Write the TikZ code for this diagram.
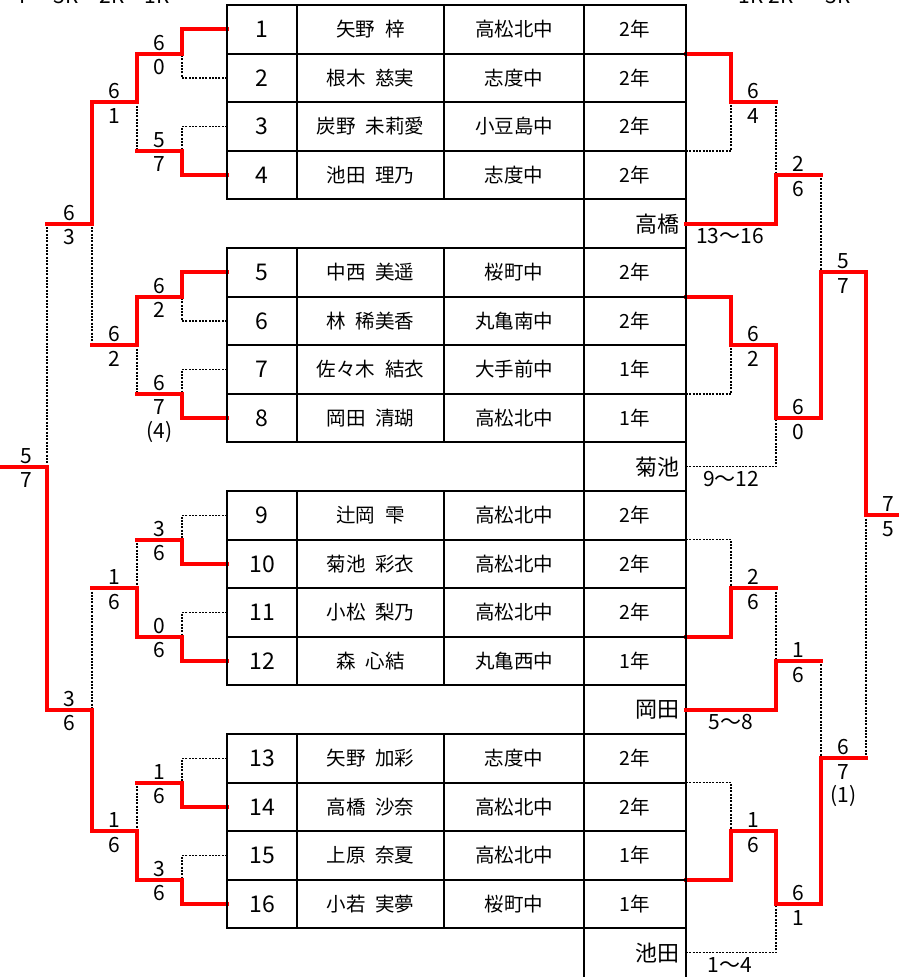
\documentclass[tikz,border=0pt]{standalone}
\usepackage{fontspec}
\setmainfont{Noto Sans CJK JP}
\newcommand\jgap{\hspace{0.5em}}
\begin{document}
\begin{tikzpicture}[x=1pt,y=-1pt,
  declare function={ky(\k)=5+48.6*\k;},
  tbl/.style={draw=black, line width=2pt},
  cell/.style={draw=black, line width=2pt, outer sep=0pt, inner sep=0pt, minimum height=48.6pt},
  numc/.style={cell, minimum width=70pt, font=\fontsize{23}{23}\selectfont},
  namec/.style={cell, minimum width=147pt, font=\fontsize{19.5}{19.5}\selectfont},
  schc/.style={cell, minimum width=140pt, font=\fontsize{19.5}{19.5}\selectfont},
  grc/.style={cell, minimum width=102pt, font=\fontsize{19.5}{19.5}\selectfont},
  gapc/.style={outer sep=0pt, inner xsep=7pt, inner ysep=0pt, minimum height=48.6pt, text width=88pt, align=right, font=\fontsize{22}{22}\selectfont},
  win/.style={draw=red, line width=4pt, line cap=rect, line join=miter},
  lose/.style={draw=black, line width=1.5pt, dash pattern=on 2pt off 1.3pt},
  score/.style={font=\fontsize{21}{21}\selectfont, inner sep=0pt},
  rng/.style={font=\fontsize{21}{21}\selectfont, inner sep=0pt},
  hdr/.style={font=\fontsize{21}{21}\selectfont, inner sep=0pt, anchor=base},
]
\path[fill=white] (0,0) rectangle (899,977);
\useasboundingbox (0,0) rectangle (899,977);

% partially visible round headers (cut by the top edge, as in the reference)
\node[hdr] (hl1) at (25,4) {F};
\node[hdr] (hl2) at (66,4) {3R};
\node[hdr] (hl3) at (112,4) {2R};
\node[hdr] (hl4) at (157,4) {1R};
\node[hdr] (hr1) at (751,4) {1R};
\node[hdr] (hr2) at (781,4) {2R};
\node[hdr] (hr3) at (838,4) {3R};
\node[hdr] (hr4) at (903,4) {F};

% table
\foreach \i/\k/\nm/\school/\gr in {
  1/0/{矢野\jgap 梓}/高松北中/2年,
  2/1/{根木\jgap 慈実}/志度中/2年,
  3/2/{炭野\jgap 未莉愛}/小豆島中/2年,
  4/3/{池田\jgap 理乃}/志度中/2年,
  5/5/{中西\jgap 美遥}/桜町中/2年,
  6/6/{林\jgap 稀美香}/丸亀南中/2年,
  7/7/{佐々木\jgap 結衣}/大手前中/1年,
  8/8/{岡田\jgap 清瑚}/高松北中/1年,
  9/10/{辻岡\jgap 雫}/高松北中/2年,
  10/11/{菊池\jgap 彩衣}/高松北中/2年,
  11/12/{小松\jgap 梨乃}/高松北中/2年,
  12/13/{森\jgap 心結}/丸亀西中/1年,
  13/15/{矢野\jgap 加彩}/志度中/2年,
  14/16/{高橋\jgap 沙奈}/高松北中/2年,
  15/17/{上原\jgap 奈夏}/高松北中/1年,
  16/18/{小若\jgap 実夢}/桜町中/1年}{
  \node[numc] (n\i) at (262,{ky(\k+0.5)}) {\i};
  \node[namec] (m\i) at (370.5,{ky(\k+0.5)}) {\nm};
  \node[schc] (s\i) at (514,{ky(\k+0.5)}) {\school};
  \node[grc] (r\i) at (635,{ky(\k+0.5)}) {\gr};
}
\foreach \j/\k/\t in {1/4/高橋,2/9/菊池,3/14/岡田,4/19/池田}{
  \node[gapc] (g\j) at (635,{ky(\k+0.5)}) {\t};
  \draw[tbl] (g\j.north west) -- (g\j.south west) (g\j.north east) -- (g\j.south east);
}

% ---------- left bracket: losers (dotted)
\draw[lose] (n2.west) -- (182,{ky(1.5)}) -- (182,{ky(1)});
\draw[lose] (n3.west) -- (182,{ky(2.5)}) -- (182,{ky(3)});
\draw[lose] (137,{ky(2)}) -- (137,{ky(3)});
\draw[lose] (92,{ky(4.5)}) -- (92,{ky(7)});
\draw[lose] (n6.west) -- (182,{ky(6.5)}) -- (182,{ky(6)});
\draw[lose] (n7.west) -- (182,{ky(7.5)}) -- (182,{ky(8)});
\draw[lose] (137,{ky(7)}) -- (137,{ky(8)});
\draw[lose] (47,{ky(4.5)}) -- (47,{ky(9.5)});
\draw[lose] (n9.west) -- (182,{ky(10.5)}) -- (182,{ky(11)});
\draw[lose] (n11.west) -- (182,{ky(12.5)}) -- (182,{ky(13)});
\draw[lose] (137,{ky(11)}) -- (137,{ky(12)});
\draw[lose] (92,{ky(12)}) -- (92,{ky(14.5)});
\draw[lose] (n13.west) -- (182,{ky(15.5)}) -- (182,{ky(16)});
\draw[lose] (n15.west) -- (182,{ky(17.5)}) -- (182,{ky(18)});
\draw[lose] (137,{ky(16)}) -- (137,{ky(17)});

% ---------- left bracket: winners (red)
\draw[win] (n1.west) -- (182,{ky(.5)}) -- (182,{ky(1)}) -- (137,{ky(1)}) -- (137,{ky(2)}) -- (92,{ky(2)}) -- (92,{ky(4.5)}) -- (47,{ky(4.5)});
\draw[win] (n4.west) -- (182,{ky(3.5)}) -- (182,{ky(3)}) -- (137,{ky(3)});
\draw[win] (n5.west) -- (182,{ky(5.5)}) -- (182,{ky(6)}) -- (137,{ky(6)}) -- (137,{ky(7)}) -- (92,{ky(7)});
\draw[win] (n8.west) -- (182,{ky(8.5)}) -- (182,{ky(8)}) -- (137,{ky(8)});
\draw[win] (n10.west) -- (182,{ky(11.5)}) -- (182,{ky(11)}) -- (137,{ky(11)});
\draw[win] (n12.west) -- (182,{ky(13.5)}) -- (182,{ky(13)}) -- (137,{ky(13)}) -- (137,{ky(12)}) -- (92,{ky(12)});
\draw[win] (n14.west) -- (182,{ky(16.5)}) -- (182,{ky(16)}) -- (137,{ky(16)});
\draw[win] (n16.west) -- (182,{ky(18.5)}) -- (182,{ky(18)}) -- (137,{ky(18)}) -- (137,{ky(17)}) -- (92,{ky(17)}) -- (92,{ky(14.5)}) -- (47,{ky(14.5)}) -- (47,{ky(9.5)}) -- (2,{ky(9.5)});

% ---------- right bracket: losers (dotted)
\draw[lose] (r3.south east) -- (731,{ky(3)}) -- (731,{ky(2)});
\draw[lose] (776,{ky(2)}) -- (776,{ky(3.5)});
\draw[lose] (821,{ky(3.5)}) -- (821,{ky(5.5)});
\draw[lose] (r7.south east) -- (731,{ky(8)}) -- (731,{ky(7)});
\draw[lose] (g2.east) -- (776,{ky(9.5)}) -- (776,{ky(8.5)});
\draw[lose] (866,{ky(10.5)}) -- (866,{ky(15.5)});
\draw[lose] (r9.south east) -- (731,{ky(11)}) -- (731,{ky(12)});
\draw[lose] (776,{ky(12)}) -- (776,{ky(13.5)});
\draw[lose] (821,{ky(13.5)}) -- (821,{ky(15.5)});
\draw[lose] (r13.south east) -- (731,{ky(16)}) -- (731,{ky(17)});
\draw[lose] (g4.east) -- (776,{ky(19.5)}) -- (776,{ky(18.5)});

% ---------- right bracket: winners (red)
\draw[win] (r1.south east) -- (731,{ky(1)}) -- (731,{ky(2)}) -- (776,{ky(2)});
\draw[win] (g1.east) -- (776,{ky(4.5)}) -- (776,{ky(3.5)}) -- (821,{ky(3.5)});
\draw[win] (r5.south east) -- (731,{ky(6)}) -- (731,{ky(7)}) -- (776,{ky(7)}) -- (776,{ky(8.5)}) -- (821,{ky(8.5)}) -- (821,{ky(5.5)}) -- (866,{ky(5.5)}) -- (866,{ky(10.5)}) -- (899,{ky(10.5)});
\draw[win] (r11.south east) -- (731,{ky(13)}) -- (731,{ky(12)}) -- (776,{ky(12)});
\draw[win] (g3.east) -- (776,{ky(14.5)}) -- (776,{ky(13.5)}) -- (821,{ky(13.5)});
\draw[win] (r15.south east) -- (731,{ky(18)}) -- (731,{ky(17)}) -- (776,{ky(17)}) -- (776,{ky(18.5)}) -- (821,{ky(18.5)}) -- (821,{ky(15.5)}) -- (866,{ky(15.5)});

% redraw table borders on top
\foreach \i in {1,...,16}{
  \draw[tbl] (n\i.north west) rectangle (r\i.south east);
}

% ---------- scores
\foreach \x/\k/\a/\b [count=\c] in {
  159.5/1/6/0, 159.5/3/5/7, 159.5/6/6/2, 159.5/8/6/7,
  159.5/11/3/6, 159.5/13/0/6, 159.5/16/1/6, 159.5/18/3/6,
  114.5/2/6/1, 114.5/7/6/2, 114.5/12/1/6, 114.5/17/1/6,
  69.5/4.5/6/3, 69.5/14.5/3/6, 26/9.5/5/7,
  753.5/2/6/4, 753.5/7/6/2, 753.5/12/2/6, 753.5/17/1/6,
  798.5/3.5/2/6, 798.5/8.5/6/0, 798.5/13.5/1/6, 798.5/18.5/6/1,
  843.5/5.5/5/7, 843.5/15.5/6/7, 888/10.5/7/5}{
  \node[score] (st\c) at (\x,{ky(\k)-11}) {\a};
  \node[score] (sb\c) at (\x,{ky(\k)+13.5}) {\b};
}
\node[score] (sx1) at (159.5,{ky(8)+38}) {(4)};
\node[score] (sx2) at (843.5,{ky(15.5)+38}) {(1)};

% ---------- ranges
\node[rng] (q1) at (730,{ky(4.5)+12.5}) {13～16};
\node[rng] (q2) at (731,{ky(9.5)+12}) {9～12};
\node[rng] (q3) at (731,{ky(14.5)+12}) {5～8};
\node[rng] (q4) at (730,{ky(19.5)+12}) {1～4};
\end{tikzpicture}
\end{document}
